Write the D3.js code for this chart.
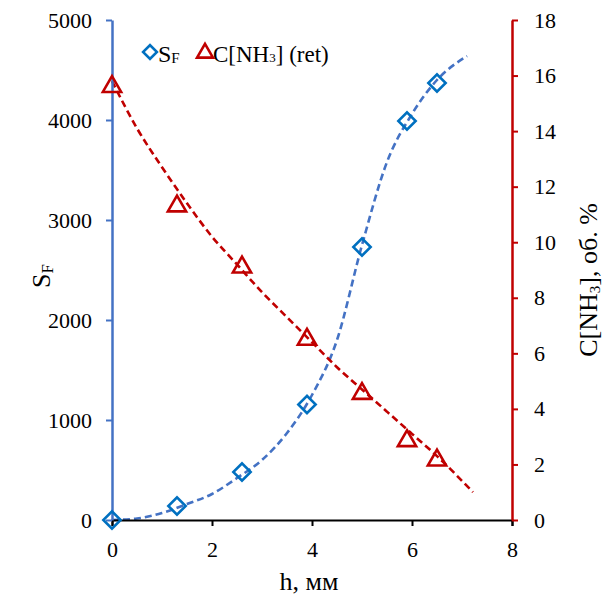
<!DOCTYPE html>
<html><head><meta charset="utf-8">
<script src="https://cdn.jsdelivr.net/npm/d3@7"></script>
<style>body{margin:0;background:#fff}svg{display:block}</style>
</head><body><svg id="c" width="611" height="597"></svg>
<script>
// measured points
const hVals = [0, 1.3, 2.6, 3.9, 5.0, 5.9, 6.5];
const sfVals = [0, 140, 480, 1155, 2730, 3990, 4370];
const cVals = [15.6, 11.3, 9.1, 6.5, 4.55, 2.85, 2.15];
// trend lines
const sfTrendH = [0, 0.5, 1, 1.5, 2, 2.5, 3, 3.5, 4, 4.5, 5, 5.5, 6, 6.5, 7.1];
const sfTrendV = [0, 15, 70, 160, 260, 420, 600, 870, 1250, 1800, 2750, 3580, 4060, 4400, 4640];
const cTrendH = [0, 0.5, 1, 1.5, 2, 2.5, 3, 3.5, 4, 4.5, 5, 5.5, 6, 6.5, 7.22];
const cTrendV = [15.8, 14.1, 12.7, 11.4, 10.2, 9.2, 8.2, 7.3, 6.4, 5.5, 4.7, 3.9, 3.1, 2.3, 1.0];
const xTicks = [0, 2, 4, 6, 8];
const yLeftTicks = [0, 1000, 2000, 3000, 4000, 5000];
const yRightTicks = [0, 2, 4, 6, 8, 10, 12, 14, 16, 18];

const FONT = "Liberation Serif";
const svg = d3.select("#c");
const x = d3.scaleLinear().domain([0, 8]).range([112, 512]);
const yL = d3.scaleLinear().domain([0, 5000]).range([520, 20]);
const yR = d3.scaleLinear().domain([0, 18]).range([520, 20]);
const BLUE = "#4472C4", MBLUE = "#0070C0", RED = "#C00000";

// trend lines
const line = (ys) => d3.line().x(d => x(d[0])).y(d => ys(d[1])).curve(d3.curveMonotoneX);
svg.append("path").datum(d3.zip(sfTrendH, sfTrendV)).attr("d", line(yL))
  .attr("fill", "none").attr("stroke", BLUE).attr("stroke-width", 2.6).attr("stroke-dasharray", "7,4");
svg.append("path").datum(d3.zip(cTrendH, cTrendV)).attr("d", line(yR))
  .attr("fill", "none").attr("stroke", RED).attr("stroke-width", 2.6).attr("stroke-dasharray", "7,4");

// axes
const gB = svg.append("g").attr("transform", "translate(0,520)")
  .call(d3.axisBottom(x).tickValues(xTicks).tickSize(6).tickPadding(15).tickFormat(d3.format("d")));
gB.attr("font-family", FONT).attr("font-size", 22);
gB.select(".domain").attr("stroke", "#000").attr("stroke-width", 2);
gB.selectAll(".tick line").attr("stroke", "#000").attr("stroke-width", 2);
gB.selectAll("text").attr("fill", "#000");

const gL = svg.append("g").attr("transform", "translate(112,0)")
  .call(d3.axisLeft(yL).tickValues(yLeftTicks).tickSize(6).tickPadding(14).tickSizeOuter(0).tickFormat(d3.format("d")));
gL.attr("font-family", FONT).attr("font-size", 22);
gL.select(".domain").attr("stroke", BLUE).attr("stroke-width", 2.5);
gL.selectAll(".tick line").attr("stroke", BLUE).attr("stroke-width", 2);
gL.selectAll("text").attr("fill", "#000");

const gR = svg.append("g").attr("transform", "translate(512,0)")
  .call(d3.axisRight(yR).tickValues(yRightTicks).tickSize(6).tickPadding(16).tickSizeOuter(0).tickFormat(d3.format("d")));
gR.attr("font-family", FONT).attr("font-size", 22);
gR.select(".domain").attr("stroke", RED).attr("stroke-width", 2.5);
gR.selectAll(".tick line").attr("stroke", RED).attr("stroke-width", 2);
gR.selectAll("text").attr("fill", "#000");

// markers
const diamond = d3.symbol().type(d3.symbolSquare).size(150);
svg.append("g").selectAll("path").data(d3.zip(hVals, sfVals)).join("path")
  .attr("d", diamond).attr("transform", d => `translate(${x(d[0])},${yL(d[1])}) rotate(45)`)
  .attr("fill", "none").attr("stroke", MBLUE).attr("stroke-width", 2.6);
const tri = d3.symbol().type(d3.symbolTriangle).size(145);
svg.append("g").selectAll("path").data(d3.zip(hVals, cVals)).join("path")
  .attr("d", tri).attr("transform", d => `translate(${x(d[0])},${yR(d[1])})`)
  .attr("fill", "none").attr("stroke", RED).attr("stroke-width", 2.6);

// legend
svg.append("path").attr("d", d3.symbol().type(d3.symbolSquare).size(95))
  .attr("transform", "translate(150,52) rotate(45)").attr("fill", "none").attr("stroke", MBLUE).attr("stroke-width", 2.6);
const t1 = svg.append("text").attr("x", 158).attr("y", 62).attr("font-family", FONT).attr("font-size", 24).attr("fill", "#000");
t1.append("tspan").text("S");
t1.append("tspan").attr("font-size", 15).attr("dy", 1).text("F");
svg.append("path").attr("d", d3.symbol().type(d3.symbolTriangle).size(110))
  .attr("transform", "translate(205,53)").attr("fill", "none").attr("stroke", RED).attr("stroke-width", 2.6);
const t2 = svg.append("text").attr("x", 213).attr("y", 62).attr("font-family", FONT).attr("font-size", 23).attr("fill", "#000");
t2.append("tspan").text("C[NH");
t2.append("tspan").attr("font-size", 13).text("3");
t2.append("tspan").text("] (ret)");

// axis titles
svg.append("text").attr("x", 309).attr("y", 590).attr("text-anchor", "middle").attr("font-family", FONT).attr("font-size", 26).attr("fill", "#000").text("h, мм");
const tl = svg.append("text").attr("transform", "translate(50,276) rotate(-90)").attr("text-anchor", "middle").attr("font-family", FONT).attr("font-size", 26).attr("fill", "#000");
tl.append("tspan").text("S");
tl.append("tspan").attr("font-size", 17).attr("dy", 3).text("F");
const tr = svg.append("text").attr("transform", "translate(597,280) rotate(-90)").attr("text-anchor", "middle").attr("font-family", FONT).attr("font-size", 26).attr("fill", "#000");
tr.append("tspan").text("C[NH");
tr.append("tspan").attr("font-size", 15).attr("dy", 3).text("3");
tr.append("tspan").attr("dy", -3).text("], об. %");
</script></body></html>
